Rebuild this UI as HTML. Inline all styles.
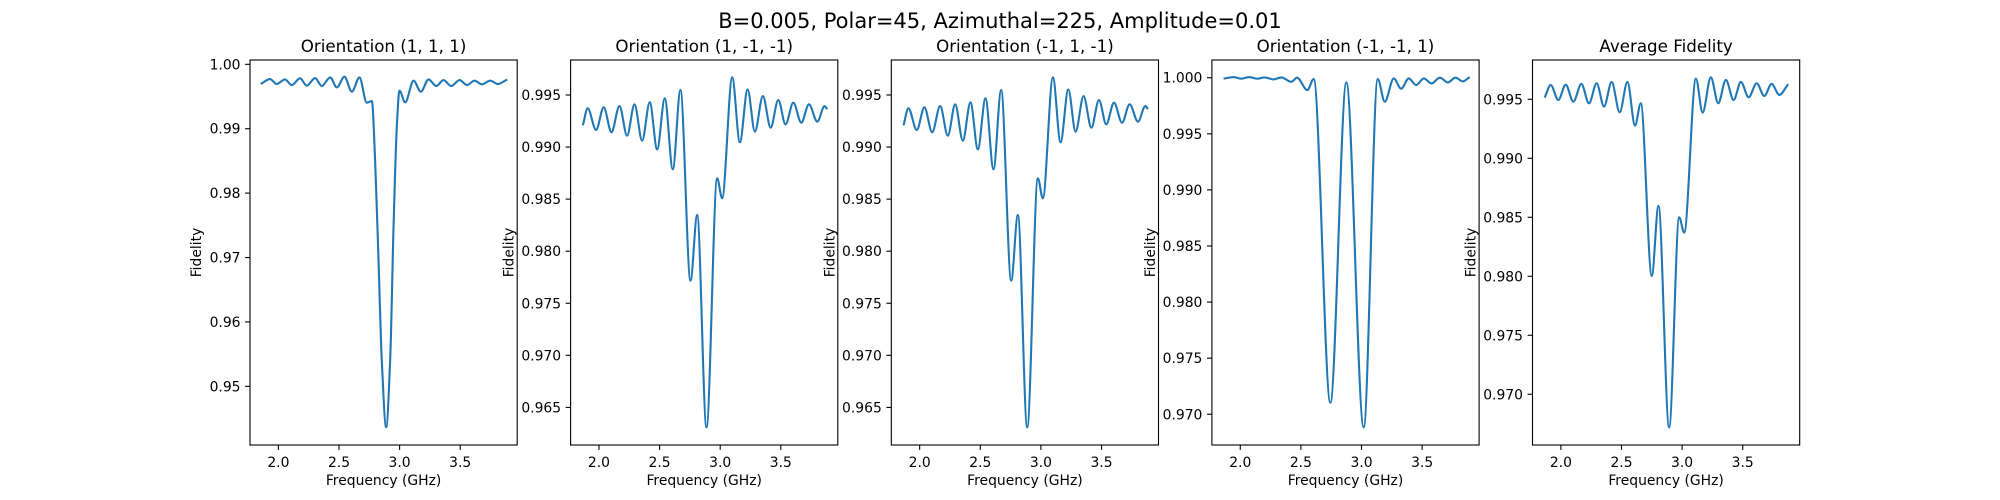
<!DOCTYPE html>
<html><head><meta charset="utf-8">
<style>
html,body{margin:0;padding:0;background:#fff;}
svg{display:block;font-family:"DejaVu Sans","Liberation Sans",sans-serif;}
</style></head>
<body>
<svg id="fig" width="2000" height="500" viewBox="0 0 2000 500" xmlns="http://www.w3.org/2000/svg">
<rect width="2000" height="500" fill="#fff"/>
<text x="1000" y="28" font-size="21" text-anchor="middle" fill="#000">B=0.005, Polar=45, Azimuthal=225, Amplitude=0.01</text>
</svg>
<script>
const xTicks = [2.0, 2.5, 3.0, 3.5];
const xTickLabels = ["2.0", "2.5", "3.0", "3.5"];
const titles = ["Orientation (1, 1, 1)", "Orientation (1, -1, -1)", "Orientation (-1, 1, -1)", "Orientation (-1, -1, 1)", "Average Fidelity"];

const freq1 = [1.862,1.931,1.986,2.055,2.110,2.179,2.234,2.303,2.358,2.427,2.482,2.545,2.606,2.669,2.729,2.771,2.798,2.826,2.853,2.889,2.922,2.950,2.977,2.999,3.046,3.115,3.175,3.239,3.302,3.362,3.426,3.495,3.555,3.618,3.679,3.748,3.811,3.880];
const fid1 = [0.99704,0.99771,0.99694,0.99766,0.99678,0.99782,0.99668,0.99787,0.99663,0.99797,0.99642,0.99808,0.99575,0.99797,0.99404,0.99430,0.98513,0.96959,0.95404,0.94368,0.95404,0.97476,0.99030,0.99590,0.99409,0.99746,0.99575,0.99766,0.99663,0.99756,0.99663,0.99756,0.99678,0.99746,0.99689,0.99746,0.99694,0.99756];

const freq2 = [1.869,1.907,1.976,2.039,2.103,2.169,2.232,2.293,2.356,2.419,2.480,2.543,2.609,2.672,2.755,2.810,2.887,2.975,3.016,3.099,3.162,3.226,3.286,3.352,3.416,3.479,3.539,3.603,3.669,3.732,3.801,3.861,3.878];
const fid2 = [0.99218,0.99372,0.99164,0.99382,0.99142,0.99394,0.99109,0.99410,0.99061,0.99430,0.98978,0.99468,0.98786,0.99548,0.97717,0.98348,0.96309,0.98700,0.98508,0.99670,0.99045,0.99554,0.99148,0.99490,0.99186,0.99452,0.99218,0.99426,0.99234,0.99410,0.99244,0.99394,0.99372];

const freq3 = [1.869,1.907,1.976,2.039,2.103,2.169,2.232,2.293,2.356,2.419,2.480,2.543,2.609,2.672,2.755,2.810,2.887,2.975,3.016,3.099,3.162,3.226,3.286,3.352,3.416,3.479,3.539,3.603,3.669,3.732,3.801,3.861,3.878];
const fid3 = [0.99218,0.99372,0.99164,0.99382,0.99142,0.99394,0.99109,0.99410,0.99061,0.99430,0.98978,0.99468,0.98786,0.99548,0.97717,0.98348,0.96309,0.98700,0.98508,0.99670,0.99045,0.99554,0.99148,0.99490,0.99186,0.99452,0.99218,0.99426,0.99234,0.99410,0.99244,0.99394,0.99372];

const freq4 = [1.871,1.945,2.008,2.074,2.138,2.201,2.275,2.339,2.421,2.468,2.553,2.606,2.743,2.875,3.018,3.134,3.192,3.266,3.327,3.390,3.451,3.514,3.577,3.646,3.712,3.775,3.836,3.885];
const fid4 = [0.99994,1.00006,0.99991,1.00006,0.99991,1.00003,0.99985,1.00003,0.99964,1.0,0.99890,0.99988,0.97103,0.99958,0.96884,0.99988,0.99786,0.99994,0.99902,0.99994,0.99935,0.99994,0.99949,1.0,0.99958,1.0,0.99967,1.0];

const freq5 = [1.870,1.916,1.979,2.040,2.103,2.169,2.232,2.295,2.356,2.419,2.485,2.549,2.612,2.659,2.750,2.805,2.893,2.976,3.017,3.114,3.169,3.237,3.298,3.361,3.425,3.485,3.549,3.615,3.678,3.738,3.802,3.870];
const fid5 = [0.99523,0.99621,0.99494,0.99624,0.99480,0.99630,0.99466,0.99636,0.99438,0.99647,0.99390,0.99647,0.99277,0.99466,0.98003,0.98596,0.96720,0.98500,0.98370,0.99675,0.99387,0.99686,0.99466,0.99664,0.99494,0.99647,0.99517,0.99636,0.99528,0.99630,0.99537,0.99621];

const yTicks1 = [0.95,0.96,0.97,0.98,0.99,1.00];
const yTickLabels1 = ["0.95","0.96","0.97","0.98","0.99","1.00"];
const yTicks2 = [0.965,0.970,0.975,0.980,0.985,0.990,0.995];
const yTickLabels2 = ["0.965","0.970","0.975","0.980","0.985","0.990","0.995"];
const yTicks4 = [0.970,0.975,0.980,0.985,0.990,0.995,1.000];
const yTickLabels4 = ["0.970","0.975","0.980","0.985","0.990","0.995","1.000"];
const yTicks5 = [0.970,0.975,0.980,0.985,0.990,0.995];
const yTickLabels5 = ["0.970","0.975","0.980","0.985","0.990","0.995"];

const NS = "http://www.w3.org/2000/svg";
const svg = document.getElementById("fig");
const AX_TOP = 60, AX_BOT = 445, AX_W = 267.2;
const lefts = [250, 570.6, 891.3, 1211.9, 1532.5];
const xMin = 1.766, xMax = 3.970;
const panels = [
  {fx: freq1, fy: fid1, yt: yTicks1, yl: yTickLabels1, ylim: [0.94089, 1.00067], yLabOff: 54},
  {fx: freq2, fy: fid2, yt: yTicks2, yl: yTickLabels2, ylim: [0.96139, 0.99836], yLabOff: 62},
  {fx: freq3, fy: fid3, yt: yTicks2, yl: yTickLabels2, ylim: [0.96139, 0.99836], yLabOff: 62},
  {fx: freq4, fy: fid4, yt: yTicks4, yl: yTickLabels4, ylim: [0.96726, 1.00158], yLabOff: 62},
  {fx: freq5, fy: fid5, yt: yTicks5, yl: yTickLabels5, ylim: [0.96570, 0.99833], yLabOff: 62}
];

function mk(tag, attrs) {
  const e = document.createElementNS(NS, tag);
  for (const k in attrs) e.setAttribute(k, attrs[k]);
  return e;
}

function monotonePath(px, py) {
  const n = px.length;
  const d = [], m = new Array(n);
  for (let i = 0; i < n - 1; i++) d.push((py[i+1]-py[i])/(px[i+1]-px[i]));
  m[0] = d[0]; m[n-1] = d[n-2];
  for (let i = 1; i < n - 1; i++) {
    if (d[i-1]*d[i] <= 0) m[i] = 0;
    else m[i] = 2/(1/d[i-1] + 1/d[i]);
  }
  let s = "M" + px[0].toFixed(2) + "," + py[0].toFixed(2);
  for (let i = 0; i < n - 1; i++) {
    const h = px[i+1]-px[i];
    const c1x = px[i]+h/3, c1y = py[i]+m[i]*h/3;
    const c2x = px[i+1]-h/3, c2y = py[i+1]-m[i+1]*h/3;
    s += " C" + c1x.toFixed(2) + "," + c1y.toFixed(2) + " " + c2x.toFixed(2) + "," + c2y.toFixed(2) + " " + px[i+1].toFixed(2) + "," + py[i+1].toFixed(2);
  }
  return s;
}

panels.forEach((p, idx) => {
  const L = lefts[idx];
  const sx = v => L + (v - xMin) / (xMax - xMin) * AX_W;
  const sy = v => AX_BOT - (v - p.ylim[0]) / (p.ylim[1] - p.ylim[0]) * (AX_BOT - AX_TOP);
  const g = mk("g", {});
  
  
  svg.appendChild(g);

  const title = mk("text", {x: L + AX_W/2, y: 52, "font-size": 16.7, "text-anchor": "middle", fill: "#000"});
  title.textContent = titles[idx];
  
  
  g.appendChild(title);

  const px = p.fx.map(sx), py = p.fy.map(sy);
  const line = mk("path", {d: monotonePath(px, py), fill: "none", stroke: "#1f77b4", "stroke-width": 2.1, "stroke-linejoin": "round", "stroke-linecap": "square"});
  
  
  g.appendChild(line);

  const frame = mk("rect", {x: L, y: AX_TOP, width: AX_W, height: AX_BOT - AX_TOP, fill: "none", stroke: "#000", "stroke-width": 1.1});
  
  
  g.appendChild(frame);

  xTicks.forEach((t, i) => {
    const x = sx(t);
    const tk = mk("line", {x1: x, x2: x, y1: AX_BOT, y2: AX_BOT + 4.9, stroke: "#000", "stroke-width": 1.1});
    
    
    g.appendChild(tk);
    const lb = mk("text", {x: x, y: 467, "font-size": 13.9, "text-anchor": "middle", fill: "#000"});
    lb.textContent = xTickLabels[i];
    
    
    g.appendChild(lb);
  });
  p.yt.forEach((t, i) => {
    const y = sy(t);
    const tk = mk("line", {x1: L - 4.9, x2: L, y1: y, y2: y, stroke: "#000", "stroke-width": 1.1});
    
    
    g.appendChild(tk);
    const lb = mk("text", {x: L - 9.5, y: y + 5, "font-size": 13.9, "text-anchor": "end", fill: "#000"});
    lb.textContent = p.yl[i];
    
    
    g.appendChild(lb);
  });
  const xl = mk("text", {x: L + AX_W/2, y: 485, "font-size": 13.9, "text-anchor": "middle", fill: "#000"});
  xl.textContent = "Frequency (GHz)";
  
  
  g.appendChild(xl);
  const yx = L - p.yLabOff + 5, yy = (AX_TOP + AX_BOT)/2;
  const yl = mk("text", {x: yx, y: yy, "font-size": 13.9, "text-anchor": "middle", fill: "#000", transform: "rotate(-90 " + yx + " " + yy + ")"});
  yl.textContent = "Fidelity";
  
  
  g.appendChild(yl);
});
</script>
</body></html>
